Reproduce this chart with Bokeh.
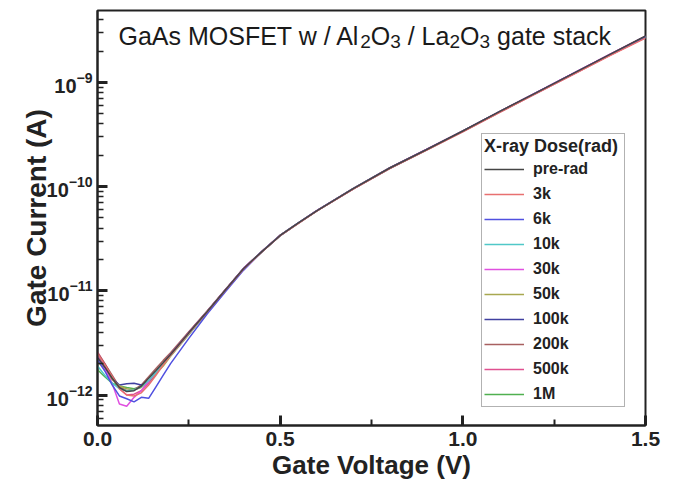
from bokeh.plotting import figure
from bokeh.models import Label, Legend, LegendItem, FixedTicker, Range1d
from bokeh.embed import file_html
from bokeh.resources import INLINE

# ---------------- data ----------------
voltage = [0.00, 0.02, 0.04, 0.06, 0.08, 0.10, 0.12, 0.14, 0.16, 0.18, 0.20,
           0.25, 0.30, 0.35, 0.40, 0.45, 0.50, 0.55, 0.60, 0.70, 0.80, 0.90,
           1.00, 1.10, 1.20, 1.30, 1.40, 1.50]

# gate currents in pA
pre_rad = [2.30, 1.85, 1.45, 1.18, 1.08, 1.10, 1.22, 1.45, 1.72, 2.05, 2.45, 3.95, 6.30,
           10.2, 16.4, 23.8, 34.0, 44.8, 58.5, 95.5, 151, 226, 342, 524, 795, 1210, 1840, 2790]
dose_3k = [2.50, 1.95, 1.50, 1.15, 1.00, 0.98, 1.05, 1.25, 1.55, 1.95, 2.40, 3.90, 6.25,
           10.1, 16.2, 23.6, 33.8, 44.5, 58.2, 94.8, 149, 223, 336, 514, 780, 1180, 1790, 2660]
dose_6k = [2.20, 1.70, 1.25, 0.98, 0.92, 0.86, 0.95, 0.93, 1.20, 1.55, 2.00, 3.50, 6.00,
           9.8, 15.8, 23.7, 33.9, 44.7, 58.4, 95.2, 150, 225, 340, 520, 788, 1198, 1815, 2740]
dose_10k = [1.90, 1.55, 1.30, 1.15, 1.10, 1.12, 1.20, 1.38, 1.65, 2.00, 2.40, 3.85, 6.25,
            10.1, 16.3, 23.8, 34.0, 44.8, 58.5, 95.5, 150, 225, 340, 520, 790, 1200, 1820, 2750]
dose_30k = [2.35, 1.80, 1.30, 0.82, 0.78, 0.95, 1.10, 1.35, 1.65, 2.00, 2.45, 3.95, 6.30,
            10.2, 16.5, 23.9, 34.1, 45.0, 58.8, 95.8, 151, 227, 343, 525, 796, 1212, 1845, 2780]
dose_50k = [2.10, 1.75, 1.40, 1.22, 1.15, 1.12, 1.18, 1.35, 1.60, 1.90, 2.35, 3.80, 6.20,
            10.0, 16.2, 23.7, 33.9, 44.7, 58.4, 95.2, 150, 225, 340, 519, 788, 1196, 1815, 2740]
dose_100k = [2.40, 1.85, 1.45, 1.25, 1.28, 1.30, 1.25, 1.35, 1.60, 2.00, 2.45, 3.95, 6.30,
             10.2, 16.4, 23.8, 34.0, 44.8, 58.6, 95.5, 151, 226, 341, 522, 792, 1205, 1830, 2760]
dose_200k = [2.55, 2.00, 1.55, 1.20, 1.10, 1.12, 1.25, 1.50, 1.80, 2.15, 2.55, 4.05, 6.40,
             10.3, 16.5, 23.9, 34.2, 45.0, 58.8, 96.0, 152, 227, 343, 524, 794, 1208, 1835, 2770]
dose_500k = [2.60, 2.00, 1.50, 1.15, 1.00, 1.02, 1.10, 1.30, 1.60, 1.98, 2.45, 4.00, 6.35,
             10.2, 16.4, 23.8, 34.0, 44.8, 58.5, 95.4, 150, 224, 338, 516, 782, 1185, 1800, 2690]
dose_1M = [1.75, 1.50, 1.30, 1.22, 1.18, 1.15, 1.20, 1.35, 1.62, 1.95, 2.40, 3.85, 6.25,
           10.1, 16.3, 23.8, 33.9, 44.7, 58.4, 95.3, 150, 225, 340, 520, 790, 1200, 1820, 2750]

series_names = ["pre-rad", "3k", "6k", "10k", "30k", "50k", "100k", "200k", "500k", "1M"]
series_values = [pre_rad, dose_3k, dose_6k, dose_10k, dose_30k, dose_50k,
                 dose_100k, dose_200k, dose_500k, dose_1M]
series_colors = ["#454545", "#e87070", "#5050e0", "#50c8c8", "#e050e0",
                 "#a8a850", "#4040a0", "#a86060", "#e05090", "#50b050"]

x_ticks = [0.0, 0.5, 1.0, 1.5]
x_tick_labels = ["0.0", "0.5", "1.0", "1.5"]
x_minor_ticks = [0.25, 0.75, 1.25]
y_ticks = [1e-12, 1e-11, 1e-10, 1e-9]
y_minor_ticks = [6e-13, 7e-13, 8e-13, 9e-13,
                 2e-12, 3e-12, 4e-12, 5e-12, 6e-12, 7e-12, 8e-12, 9e-12,
                 2e-11, 3e-11, 4e-11, 5e-11, 6e-11, 7e-11, 8e-11, 9e-11,
                 2e-10, 3e-10, 4e-10, 5e-10, 6e-10, 7e-10, 8e-10, 9e-10,
                 2e-9, 3e-9, 4e-9]

title_parts = ["GaAs MOSFET w / Al", "2", "O", "3", "/ La", "2", "O", "3", "gate stack"]
title_is_sub = [False, True, False, True, False, True, False, True, False]

X_MIN, X_MAX = 0.0, 1.5
Y_MIN, Y_MAX = 5.1e-13, 4.9e-9

# ---------------- figure ----------------
p = figure(width=673, height=487, y_axis_type="log",
           x_range=Range1d(X_MIN, X_MAX), y_range=Range1d(Y_MIN, Y_MAX),
           output_backend="svg", toolbar_location=None,
           min_border_left=97, min_border_right=28, min_border_top=10, min_border_bottom=62)

p.background_fill_color = "white"
p.border_fill_color = "white"
p.outline_line_color = "#222222"
p.outline_line_width = 2
p.grid.visible = False

FONT = "Liberation Sans"
INK = "#222222"

for ax in (p.xaxis[0], p.yaxis[0]):
    ax.axis_line_width = 2
    ax.axis_line_color = INK
    ax.major_tick_in = 10
    ax.major_tick_out = 0
    ax.minor_tick_in = 6
    ax.minor_tick_out = 0
    ax.major_tick_line_width = 3
    ax.minor_tick_line_width = 2
    ax.major_tick_line_color = INK
    ax.minor_tick_line_color = INK
    ax.major_label_text_font = FONT
    ax.major_label_text_font_style = "bold"
    ax.major_label_text_color = INK
    ax.axis_label_text_font = FONT
    ax.axis_label_text_font_style = "bold"
    ax.axis_label_text_color = INK

p.xaxis.ticker = FixedTicker(ticks=x_ticks, minor_ticks=x_minor_ticks)
p.xaxis.major_label_overrides = dict(zip(x_ticks, x_tick_labels))
p.xaxis.major_label_text_font_size = "21px"
p.xaxis.major_label_standoff = 6
p.xaxis.axis_label = "Gate Voltage (V)"
p.xaxis.axis_label_text_font_size = "26px"
p.xaxis.axis_label_standoff = 1

p.yaxis.ticker = FixedTicker(ticks=y_ticks, minor_ticks=y_minor_ticks)
p.yaxis.minor_tick_line_width = 1.5
p.yaxis.major_label_text_font_size = "20px"
p.yaxis.major_label_standoff = 5
p.yaxis.axis_label = "Gate Current (A)"
p.yaxis.axis_label_text_font_size = "28px"
p.yaxis.axis_label_standoff = -8

renderers = {}
for name, vals, col in reversed(list(zip(series_names, series_values, series_colors))):
    amps = [v * 1e-12 for v in vals]
    renderers[name] = p.line(voltage, amps, line_color=col, line_width=1.5)
items = [LegendItem(label=name, renderers=[renderers[name]]) for name in series_names]

legend = Legend(items=items, location=(384, 18), title="X-ray Dose(rad)",
                title_text_font=FONT, title_text_font_style="bold", title_text_font_size="18px",
                title_text_color=INK, title_standoff=2,
                label_text_font=FONT, label_text_font_style="bold", label_text_font_size="16px",
                label_text_color=INK,
                glyph_width=40, glyph_height=20, label_height=20, spacing=5, padding=2,
                label_standoff=9, label_width=89, margin=0,
                border_line_color="#666666", border_line_width=1.5,
                background_fill_color="white", background_fill_alpha=1.0)
p.add_layout(legend)

# title inside the plot, with subscripts
offsets = [0, 241.7, 252.3, 271.7, 289.2, 331.0, 341.6, 361.0, 378.6]
for txt, sub, off in zip(title_parts, title_is_sub, offsets):
    p.add_layout(Label(x=0.0575, y=2.8e-9, x_offset=off, y_offset=(-6 if sub else 0),
                       text=txt, text_font=FONT, text_font_size=("19px" if sub else "25px"),
                       text_color="#1a1a1a", text_baseline="alphabetic", text_align="left"))

open("out.html", "w").write(file_html(p, INLINE))
